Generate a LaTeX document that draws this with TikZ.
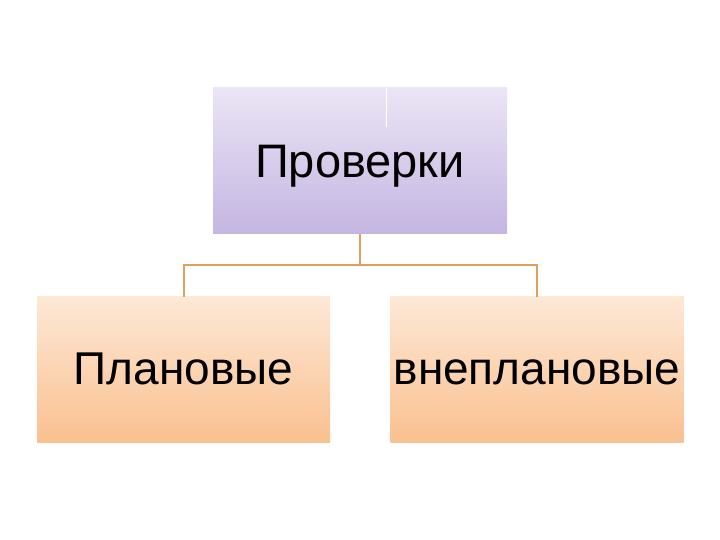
\documentclass[tikz,border=0pt]{standalone}
\usepackage{fontspec}
\setmainfont{Liberation Sans}
\definecolor{purtop}{HTML}{EBE5F5}
\definecolor{purbot}{HTML}{C4B5E2}
\definecolor{ortop}{HTML}{FDE8D6}
\definecolor{orbot}{HTML}{FAC08F}
\definecolor{linkc}{HTML}{DFA05E}
\begin{document}
\begin{tikzpicture}[x=1pt,y=1pt,
  topbox/.style={draw=none,top color=purtop,bottom color=purbot,minimum width=294pt,minimum height=146pt,inner sep=0pt,text height=34pt,text depth=0pt,font=\fontsize{47}{50}\selectfont},
  botbox/.style={draw=none,top color=ortop,bottom color=orbot,minimum width=293pt,minimum height=146pt,inner sep=0pt,text height=30pt,text depth=0pt,font=\fontsize{46}{50}\selectfont},
  link/.style={draw=linkc,line width=2pt}]
\useasboundingbox (0,0) rectangle (720,540);
\node[topbox] (top) at (360,379) {Проверки};
\node[botbox] (left) at (183.5,170) {Плановые};
\node[botbox] (right) at (537,170) {внеплановые};
\draw[white,line width=1pt] (386,452) -- (386,413);
\coordinate (j) at (360,275);
\draw[link] (top.south) -- (j);
\draw[link] (j) -- (left.north |- j) -- (left.north);
\draw[link] (j) -- (right.north |- j) -- (right.north);
\end{tikzpicture}
\end{document}
